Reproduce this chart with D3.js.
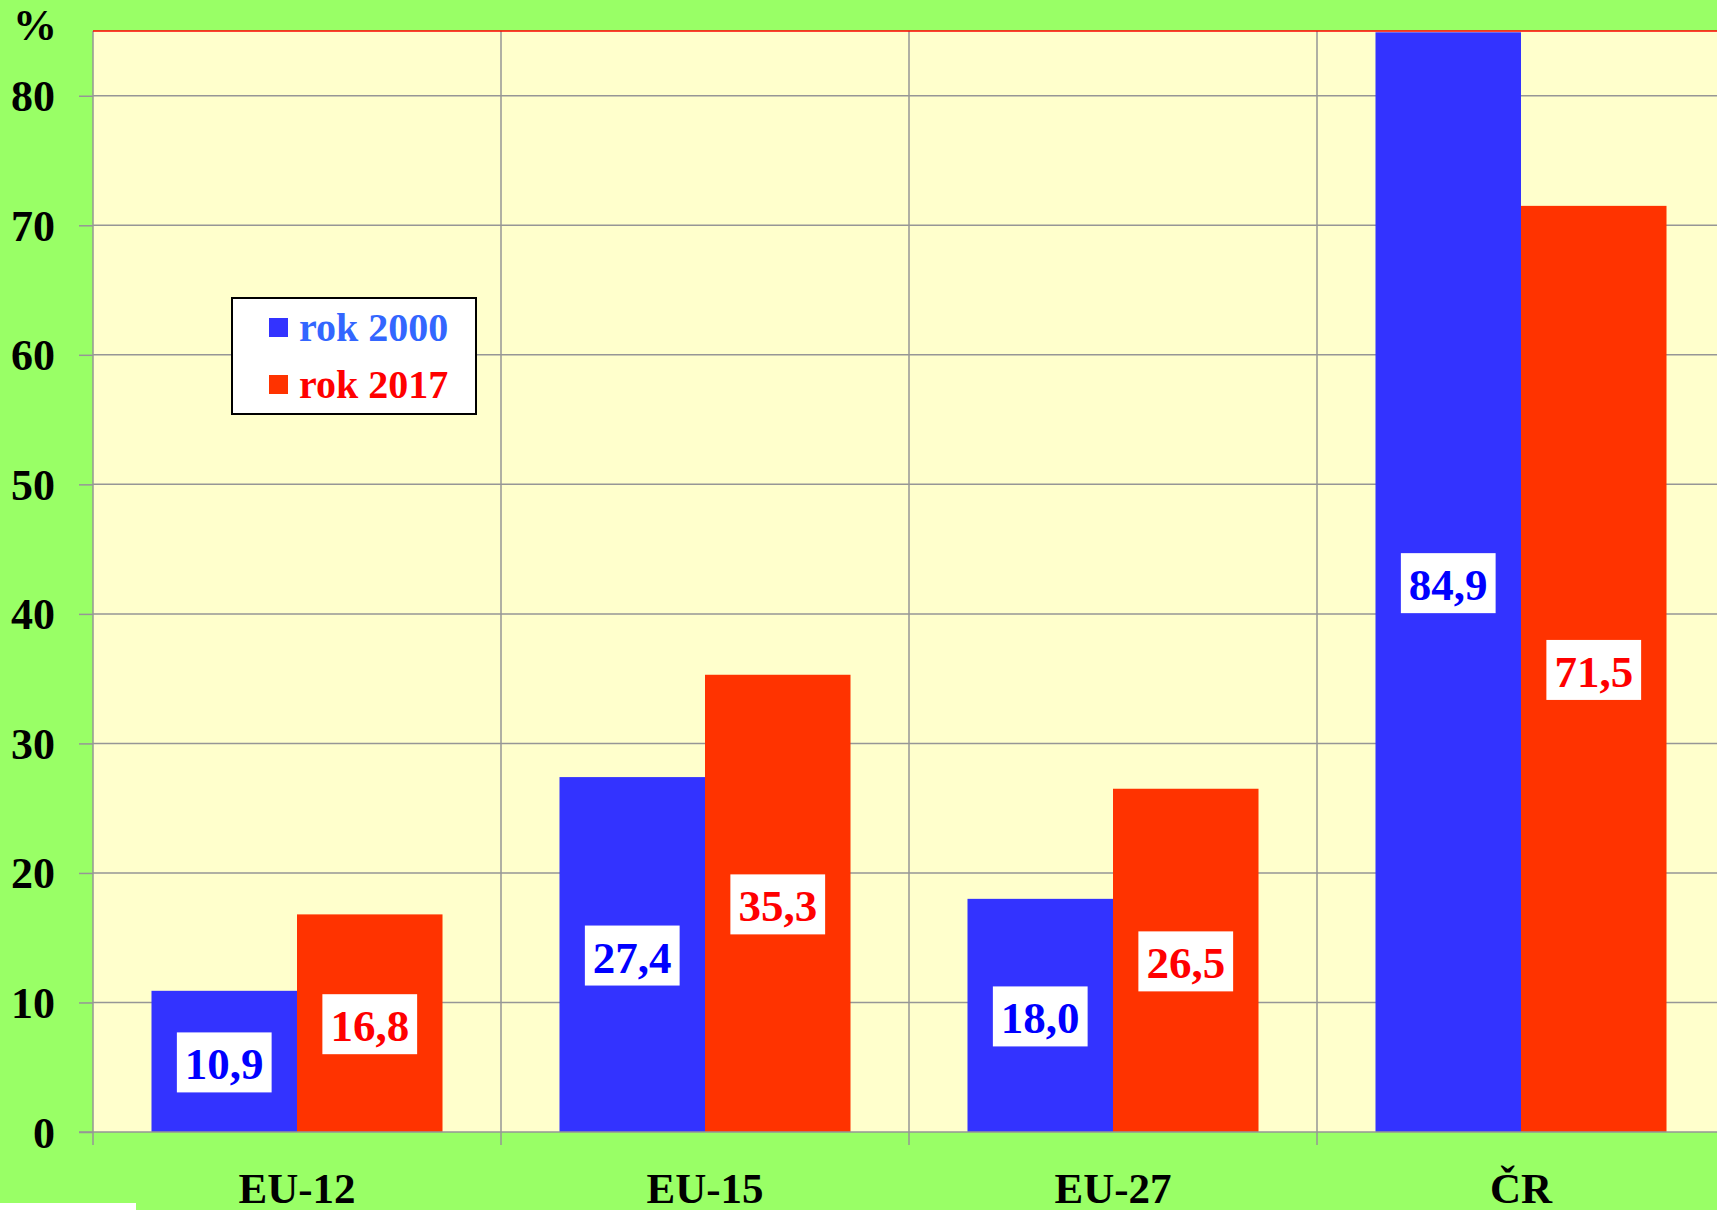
<!DOCTYPE html>
<html lang="cs">
<head>
  <meta charset="UTF-8">
  <title>rok 2000 / rok 2017</title>
  <script src="https://cdn.jsdelivr.net/npm/d3@7"></script>
  <style>
    body { margin: 0; background: #99ff66; overflow: hidden; }
    svg text { font-family: 'Liberation Serif', 'Times New Roman', serif; font-weight: bold; }
  </style>
</head>
<body>
  <div id="chart"></div>
  <script>
    // data
    const categories = ['EU-12', 'EU-15', 'EU-27', 'ČR'];
    const series = ['rok 2000', 'rok 2017'];
    const values2000 = [10.9, 27.4, 18.0, 84.9];
    const values2017 = [16.8, 35.3, 26.5, 71.5];
    const yTicks = [0, 10, 20, 30, 40, 50, 60, 70, 80];

    const W = 1717, H = 1210;
    // plot area runs off the right edge like in the original
    const plot = { left: 93, top: 31, bottom: 1132, right: 93 + 4 * 408 };

    const barColor = d3.scaleOrdinal().domain(series).range(['#3333ff', '#ff3300']);
    const labelColor = d3.scaleOrdinal().domain(series).range(['#0000ff', '#ff0000']);
    const legendText = d3.scaleOrdinal().domain(series).range(['#3366ff', '#ff0000']);

    const rows = categories.map((c, i) => ({
      cat: c,
      vals: [{ s: series[0], v: values2000[i] }, { s: series[1], v: values2017[i] }]
    }));

    const svg = d3.select('#chart').append('svg')
      .attr('width', W)
      .attr('height', H);

    svg.append('rect').attr('width', W).attr('height', H).attr('fill', '#99ff66');

    let x0 = d3.scaleBand()
      .domain(categories)
      .range([plot.left, plot.right])
      .padding(0);
    let x1 = d3.scaleBand()
      .domain(series)
      .range([0, x0.bandwidth()])
      .paddingInner(0)
      .paddingOuter(0.402);
    let y = d3.scaleLinear()
      .domain([0, 85])
      .range([plot.bottom, plot.top]);

    // plot background
    svg.append('rect')
      .attr('x', plot.left)
      .attr('y', plot.top)
      .attr('width', plot.right - plot.left)
      .attr('height', plot.bottom - plot.top)
      .attr('fill', '#ffffcc');

    // y ticks and labels
    let yAxis = d3.axisLeft(y)
      .tickValues(yTicks)
      .tickSize(14)
      .tickFormat(d3.format('d'));
    let yG = svg.append('g')
      .attr('transform', `translate(${plot.left},0)`)
      .call(yAxis);
    yG.select('.domain').remove();
    yG.selectAll('.tick line').attr('stroke', '#969696').attr('stroke-width', 1.5);
    yG.selectAll('.tick text')
      .attr('font-size', 44)
      .attr('fill', '#000')
      .attr('dy', 15)
      .attr('x', -38);

    // horizontal grid
    svg.append('g').selectAll('line')
      .data(yTicks.filter(d => d > 0))
      .join('line')
      .attr('x1', plot.left).attr('x2', W)
      .attr('y1', d => y(d)).attr('y2', d => y(d))
      .attr('stroke', '#969696')
      .attr('stroke-width', 1.5);

    // vertical grid at category boundaries, with ticks below the axis
    const bounds = categories.map(c => x0(c));
    svg.append('g').selectAll('line')
      .data(bounds)
      .join('line')
      .attr('x1', d => d).attr('x2', d => d)
      .attr('y1', plot.top).attr('y2', plot.bottom + 13)
      .attr('stroke', '#969696')
      .attr('stroke-width', 1.5);

    // bars
    let groups = svg.append('g').selectAll('g')
      .data(rows)
      .join('g')
      .attr('transform', d => `translate(${x0(d.cat)},0)`);

    groups.selectAll('rect')
      .data(d => d.vals)
      .join('rect')
      .attr('x', d => x1(d.s))
      .attr('y', d => Math.max(y(d.v), plot.top))
      .attr('width', x1.bandwidth())
      .attr('height', d => plot.bottom - Math.max(y(d.v), plot.top))
      .attr('fill', d => barColor(d.s));

    // x axis line
    svg.append('line')
      .attr('x1', plot.left - 14).attr('x2', W)
      .attr('y1', plot.bottom).attr('y2', plot.bottom)
      .attr('stroke', '#969696')
      .attr('stroke-width', 1.5);

    // red top border
    svg.append('line')
      .attr('x1', plot.left).attr('x2', W)
      .attr('y1', plot.top).attr('y2', plot.top)
      .attr('stroke', '#ff0000')
      .attr('stroke-width', 1.5);

    // value labels in white boxes, centred in the bar
    let labels = groups.selectAll('g.lab')
      .data(d => d.vals)
      .join('g')
      .attr('class', 'lab')
      .attr('transform', d => {
        const top = Math.max(y(d.v), plot.top);
        return `translate(${x1(d.s) + x1.bandwidth() / 2},${(top + plot.bottom) / 2 + 1})`;
      });
    labels.append('rect').attr('fill', '#fff');
    labels.append('text')
      .attr('text-anchor', 'middle')
      .attr('y', 17)
      .attr('font-size', 45)
      .attr('fill', d => labelColor(d.s))
      .text(d => d3.format('.1f')(d.v).replace('.', ','));
    labels.each(function () {
      const w = d3.select(this).select('text').node().getComputedTextLength() + 16;
      d3.select(this).select('rect')
        .attr('x', -w / 2).attr('y', -30)
        .attr('width', w).attr('height', 60);
    });

    // category labels
    svg.append('g').selectAll('text')
      .data(categories)
      .join('text')
      .attr('x', d => x0(d) + x0.bandwidth() / 2)
      .attr('y', 1203)
      .attr('text-anchor', 'middle')
      .attr('font-size', 43)
      .attr('fill', '#000')
      .text(d => d);

    // unit
    svg.append('text')
      .attr('x', 35).attr('y', 40)
      .attr('text-anchor', 'middle')
      .attr('font-size', 44)
      .attr('fill', '#000')
      .text('%');

    // legend
    let legend = svg.append('g').attr('transform', 'translate(232,298)');
    legend.append('rect')
      .attr('width', 244).attr('height', 116)
      .attr('fill', '#fff')
      .attr('stroke', '#000')
      .attr('stroke-width', 2);
    let li = legend.selectAll('g')
      .data(series)
      .join('g')
      .attr('transform', (d, i) => `translate(37,${20 + i * 57})`);
    li.append('rect')
      .attr('width', 19).attr('height', 19)
      .attr('fill', d => barColor(d));
    li.append('text')
      .attr('x', 30).attr('y', 23)
      .attr('font-size', 40)
      .attr('fill', d => legendText(d))
      .text(d => d);

    // little white strip in the lower left corner
    svg.append('rect')
      .attr('x', 0).attr('y', 1203)
      .attr('width', 136).attr('height', 7)
      .attr('fill', '#fff');
  </script>
</body>
</html>
